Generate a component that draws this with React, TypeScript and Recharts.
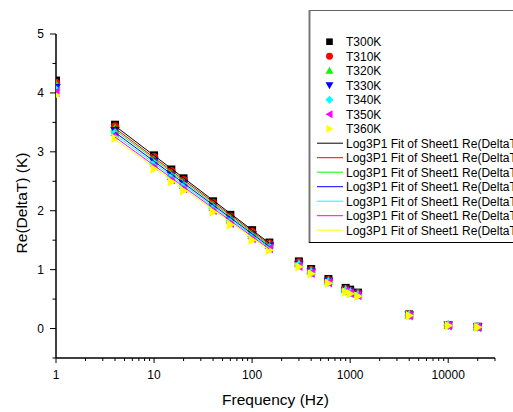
import React from 'react';
import { ScatterChart, Scatter, XAxis, YAxis } from 'recharts';

const FREQ = [1, 4, 10, 15, 20, 40, 60, 100, 150, 300, 400, 600, 900, 1000, 1200, 4000, 10000, 20000];

const T300 = [4.21, 3.46, 2.94, 2.70, 2.55, 2.16, 1.93, 1.67, 1.46, 1.14, 1.01, 0.84, 0.69, 0.66, 0.61, 0.24, 0.06, 0.03];
const T310 = [4.17, 3.43, 2.91, 2.67, 2.52, 2.13, 1.90, 1.64, 1.44, 1.12, 0.99, 0.82, 0.67, 0.64, 0.60, 0.24, 0.06, 0.03];
const T320 = [4.14, 3.40, 2.88, 2.64, 2.49, 2.10, 1.88, 1.62, 1.42, 1.10, 0.98, 0.81, 0.66, 0.63, 0.59, 0.23, 0.06, 0.03];
const T330 = [4.09, 3.36, 2.84, 2.61, 2.46, 2.07, 1.85, 1.59, 1.40, 1.09, 0.96, 0.80, 0.65, 0.62, 0.58, 0.23, 0.06, 0.03];
const T340 = [4.05, 3.32, 2.80, 2.57, 2.42, 2.04, 1.82, 1.56, 1.38, 1.08, 0.95, 0.79, 0.64, 0.61, 0.57, 0.23, 0.06, 0.03];
const T350 = [4.01, 3.28, 2.76, 2.53, 2.38, 2.01, 1.79, 1.53, 1.36, 1.06, 0.94, 0.78, 0.63, 0.60, 0.56, 0.22, 0.05, 0.02];
const T360 = [3.96, 3.23, 2.71, 2.49, 2.34, 1.98, 1.76, 1.50, 1.33, 1.05, 0.93, 0.77, 0.62, 0.59, 0.55, 0.22, 0.05, 0.02];

const FIT_FREQ = [4, 150];
const FIT_START = [3.44, 3.40, 3.37, 3.33, 3.29, 3.25, 3.21];
const FIT_END = [1.45, 1.43, 1.41, 1.39, 1.37, 1.35, 1.33];

const SERIES_NAMES = ['T300K', 'T310K', 'T320K', 'T330K', 'T340K', 'T350K', 'T360K'];
const FIT_NAME = 'Log3P1 Fit of Sheet1 Re(DeltaT';
const COLORS = ['#000000', '#FF0000', '#00FF00', '#0000FF', '#00FFFF', '#FF00FF', '#FFFF00'];
const SHAPES = ['square', 'circle', 'up', 'down', 'diamond', 'left', 'right'];

const X_TICKS = [
  1, 2, 3, 4, 5, 6, 7, 8, 9,
  10, 20, 30, 40, 50, 60, 70, 80, 90,
  100, 200, 300, 400, 500, 600, 700, 800, 900,
  1000, 2000, 3000, 4000, 5000, 6000, 7000, 8000, 9000,
  10000, 20000, 30000,
];
const Y_TICKS = [-0.5, 0, 0.5, 1, 1.5, 2, 2.5, 3, 3.5, 4, 4.5, 5];

const VALUES = [T300, T310, T320, T330, T340, T350, T360];
const FONT = '"Liberation Sans", Arial, sans-serif';

function Marker({ cx, cy, kind, color, s = 4 }: any) {
  if (cx == null || cy == null) return <g />;
  const t = s * 1.2;
  switch (kind) {
    case 'square':
      return <rect x={cx - s} y={cy - s} width={2 * s} height={2 * s} fill={color} />;
    case 'circle':
      return <circle cx={cx} cy={cy} r={s * 1.05} fill={color} />;
    case 'up':
      return <polygon points={`${cx},${cy - t} ${cx - t},${cy + s * 0.9} ${cx + t},${cy + s * 0.9}`} fill={color} />;
    case 'down':
      return <polygon points={`${cx},${cy + t} ${cx - t},${cy - s * 0.9} ${cx + t},${cy - s * 0.9}`} fill={color} />;
    case 'diamond':
      return <polygon points={`${cx},${cy - t} ${cx + t},${cy} ${cx},${cy + t} ${cx - t},${cy}`} fill={color} />;
    case 'left':
      return <polygon points={`${cx - t},${cy} ${cx + s * 0.9},${cy - t} ${cx + s * 0.9},${cy + t}`} fill={color} />;
    default:
      return <polygon points={`${cx + t},${cy} ${cx - s * 0.9},${cy - t} ${cx - s * 0.9},${cy + t}`} fill={color} />;
  }
}

function isDecade(v: number) {
  const l = Math.log10(v);
  return Math.abs(l - Math.round(l)) < 1e-9;
}

function XTick(props: any) {
  const { x, y, payload } = props;
  const v = payload.value;
  const major = isDecade(v);
  return (
    <g>
      <line x1={x} x2={x} y1={y} y2={y + (major ? 5 : 3)} stroke="#000" strokeWidth={1} />
      {major && (
        <text x={x} y={y + 21} textAnchor="middle" fontSize={12} fontFamily={FONT} fill="#000">
          {v}
        </text>
      )}
    </g>
  );
}

function YTick(props: any) {
  const { x, y, payload } = props;
  const v = payload.value;
  const major = Number.isInteger(v);
  return (
    <g>
      <line x1={x} x2={x - (major ? 6 : 3.5)} y1={y} y2={y} stroke="#000" strokeWidth={1} />
      {major && (
        <text x={x - 12} y={y + 4.3} textAnchor="end" fontSize={12} fontFamily={FONT} fill="#000">
          {v}
        </text>
      )}
    </g>
  );
}

function Legend() {
  const rowY = (i: number) => 41.7 + i * 14.5;
  return (
    <svg width={513} height={412} style={{ position: 'absolute', left: 0, top: 0, pointerEvents: 'none' }}>
      <rect x={309.5} y={10.5} width={230} height={232} fill="#fff" stroke="#666" strokeWidth={1} />
      <line x1={309.5} x2={309.5} y1={10} y2={243} stroke="#777" strokeWidth={2} />
      <line x1={309} x2={513} y1={242.5} y2={242.5} stroke="#000" strokeWidth={1.2} />
      {SERIES_NAMES.map((n, i) => (
        <g key={n}>
          <Marker cx={329.5} cy={rowY(i)} kind={SHAPES[i]} color={COLORS[i]} s={3.3} />
          <text x={346} y={rowY(i) + 4.3} fontSize={12} fontFamily={FONT} fill="#000">
            {n}
          </text>
        </g>
      ))}
      {SERIES_NAMES.map((n, i) => (
        <g key={'fit' + n}>
          <line x1={317} x2={343} y1={rowY(i + 7)} y2={rowY(i + 7)} stroke={COLORS[i]} strokeWidth={1} />
          <text x={346} y={rowY(i + 7) + 4.3} fontSize={12} fontFamily={FONT} fill="#000">
            {FIT_NAME}
          </text>
        </g>
      ))}
    </svg>
  );
}

export default function App() {
  const seriesData = VALUES.map((vals) => FREQ.map((f, i) => ({ f, v: vals[i] })));
  const fitData = FIT_START.map((s, i) => [
    { f: FIT_FREQ[0], v: s },
    { f: FIT_FREQ[1], v: FIT_END[i] },
  ]);
  return (
    <div style={{ position: 'absolute', left: 0, top: 0, width: 513, height: 412, background: '#fff' }}>
      <ScatterChart width={513} height={412} margin={{ top: 34, right: 18, bottom: 24, left: 0 }}>
        <XAxis
          type="number"
          dataKey="f"
          scale="log"
          domain={[1, 30000]}
          allowDataOverflow
          ticks={X_TICKS}
          interval={0}
          tick={<XTick />}
          tickSize={0}
          tickMargin={0}
          tickLine={false}
          height={30}
          axisLine={{ stroke: '#000', strokeWidth: 1.5 }}
          label={{
            content: (p: any) => {
              const vb = p.viewBox || { x: 56, y: 358, width: 439 };
              return (
                <text x={vb.x + vb.width / 2} y={vb.y + 47} textAnchor="middle" fontSize={15.5} fontFamily={FONT} fill="#000">
                  Frequency (Hz)
                </text>
              );
            },
          }}
        />
        <YAxis
          type="number"
          dataKey="v"
          domain={[-0.5, 5]}
          allowDataOverflow
          ticks={Y_TICKS}
          interval={0}
          tick={<YTick />}
          tickSize={0}
          tickMargin={0}
          tickLine={false}
          width={56}
          axisLine={{ stroke: '#000', strokeWidth: 1.5 }}
          label={{
            content: () => (
              <text
                x={27}
                y={203}
                transform="rotate(-90 27 203)"
                textAnchor="middle"
                fontSize={15.5}
                fontFamily={FONT}
                fill="#000"
              >
                Re(DeltaT) (K)
              </text>
            ),
          }}
        />
        {seriesData.map((d, i) => (
          <Scatter
            key={SERIES_NAMES[i]}
            name={SERIES_NAMES[i]}
            data={d}
            isAnimationActive={false}
            shape={(p: any) => <Marker cx={p.cx} cy={p.cy} kind={SHAPES[i]} color={COLORS[i]} s={4} />}
          />
        ))}
        {fitData.map((d, i) => (
          <Scatter
            key={'fit' + i}
            name={FIT_NAME}
            data={d}
            isAnimationActive={false}
            line={{ stroke: COLORS[i], strokeWidth: 1 }}
            shape={() => <g />}
          />
        ))}
      </ScatterChart>
      <Legend />
    </div>
  );
}
